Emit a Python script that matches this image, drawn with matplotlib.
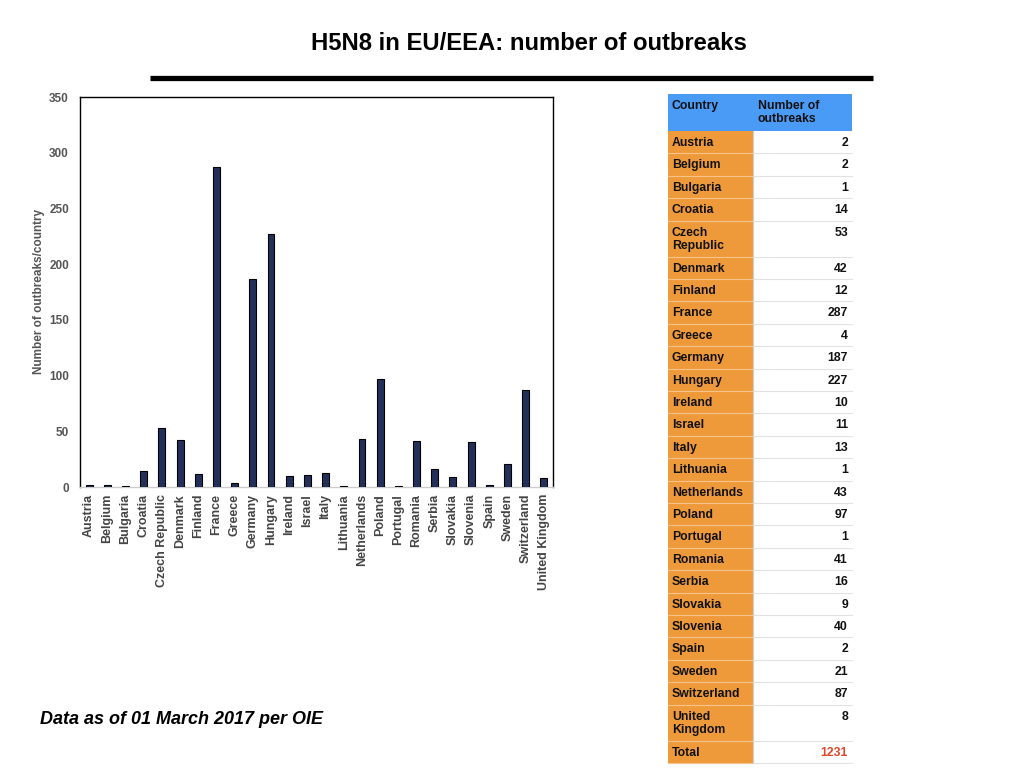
import matplotlib
matplotlib.use("Agg")
import matplotlib.pyplot as plt
from matplotlib.patches import Rectangle

countries = ["Austria", "Belgium", "Bulgaria", "Croatia", "Czech Republic", "Denmark",
             "Finland", "France", "Greece", "Germany", "Hungary", "Ireland", "Israel",
             "Italy", "Lithuania", "Netherlands", "Poland", "Portugal", "Romania",
             "Serbia", "Slovakia", "Slovenia", "Spain", "Sweden", "Switzerland",
             "United Kingdom"]
outbreaks = [2, 2, 1, 14, 53, 42, 12, 287, 4, 187, 227, 10, 11, 13, 1, 43, 97, 1,
             41, 16, 9, 40, 2, 21, 87, 8]
total_label = "Total"
total_value = 1231
yticks = [0, 50, 100, 150, 200, 250, 300, 350]

W, H = 1024, 768
fig = plt.figure(figsize=(W / 100, H / 100), dpi=100)
fig.patch.set_facecolor("white")

def fr(x0, y0, x1, y1):
    return [x0 / W, 1 - y1 / H, (x1 - x0) / W, (y1 - y0) / H]

# Overlay for title, line, table, footnote
ov = fig.add_axes([0, 0, 1, 1])
ov.set_xlim(0, W)
ov.set_ylim(H, 0)
ov.axis("off")

ov.text(529, 43, "H5N8 in EU/EEA: number of outbreaks", ha="center", va="center",
        fontsize=17.2, fontweight="bold", family="Liberation Sans")
ov.plot([150, 873], [78, 78], color="black", lw=3.8, solid_capstyle="butt")
ov.text(40, 719, "Data as of 01 March 2017 per OIE", ha="left", va="center",
        fontsize=13, fontweight="bold", style="italic", family="Liberation Sans")

# Bar chart
ax = fig.add_axes(fr(80, 97, 553, 487))
x = list(range(len(countries)))
ax.bar(x, outbreaks, width=0.38, color="#22305a", edgecolor="black", linewidth=0.8, zorder=3)
ax.set_xlim(-0.5, len(countries) - 0.5)
ax.set_ylim(0, 350)
ax.set_yticks(yticks)
ax.set_yticklabels([str(v) for v in yticks])
ax.set_xticks(x)
ax.set_xticklabels(countries, rotation=90)
ax.tick_params(axis="y", length=0, pad=8)
ax.tick_params(axis="x", length=0, pad=5)
for lab in ax.get_yticklabels() + ax.get_xticklabels():
    lab.set_color("#555555")
    lab.set_fontweight("bold")
    lab.set_fontsize(8.5)
    lab.set_family("Liberation Sans")
for lab in ax.get_xticklabels():
    lab.set_color("#444444")
    lab.set_fontsize(9)
ax.set_ylabel("Number of outbreaks/country", color="#555555", fontweight="bold",
              fontsize=8.5, family="Liberation Sans", labelpad=3)
for s in ["top", "right", "left"]:
    ax.spines[s].set_color("black")
    ax.spines[s].set_linewidth(1.0)
ax.spines["bottom"].set_color("#cccccc")
ax.spines["bottom"].set_linewidth(1.0)

# Table
tx0, tmid, tx1 = 668, 753, 852
orange = "#ef9a3a"
blue = "#4a9bf5"
hdr_top, hdr_bot = 94, 131
fs = 8.8
ov.add_patch(Rectangle((tx0, hdr_top), tx1 - tx0, hdr_bot - hdr_top, color=blue, lw=0))
ov.text(tx0 + 4, hdr_top + 6, "Country", ha="left", va="top", fontsize=fs,
        fontweight="bold", family="Liberation Sans", color="#111111")
ov.text(tmid + 5, hdr_top + 6, "Number of\noutbreaks", ha="left", va="top", fontsize=fs,
        fontweight="bold", family="Liberation Sans", color="#111111", linespacing=1.15)

rows = [(c if not (" " in c and len(c) > 12) else c.replace(" ", "\n"), str(v), "#111111")
        for c, v in zip(countries, outbreaks)]
rows.append((total_label, str(total_value), "#e0452b"))

single_h, double_h = 22.4, 36.0
y = hdr_bot
for name, val, vcol in rows:
    h = double_h if "\n" in name else single_h
    ov.add_patch(Rectangle((tx0, y), tmid - tx0, h, color=orange, lw=0))
    ov.add_patch(Rectangle((tmid, y), tx1 - tmid, h, color="white", lw=0))
    ov.plot([tx0, tmid], [y + h, y + h], color="#f6c48a", lw=0.8)
    ov.plot([tmid, tx1], [y + h, y + h], color="#e2e2e2", lw=0.8)
    ov.text(tx0 + 4, y + 6, name, ha="left", va="top", fontsize=fs, fontweight="bold",
            family="Liberation Sans", color="#111111", linespacing=1.15)
    ov.text(tx1 - 4, y + 6, val, ha="right", va="top", fontsize=fs, fontweight="bold",
            family="Liberation Sans", color=vcol)
    y += h
ov.plot([tmid, tmid], [hdr_bot, y], color="#d0d0d0", lw=0.8)

fig.savefig("out.png", dpi=100)
